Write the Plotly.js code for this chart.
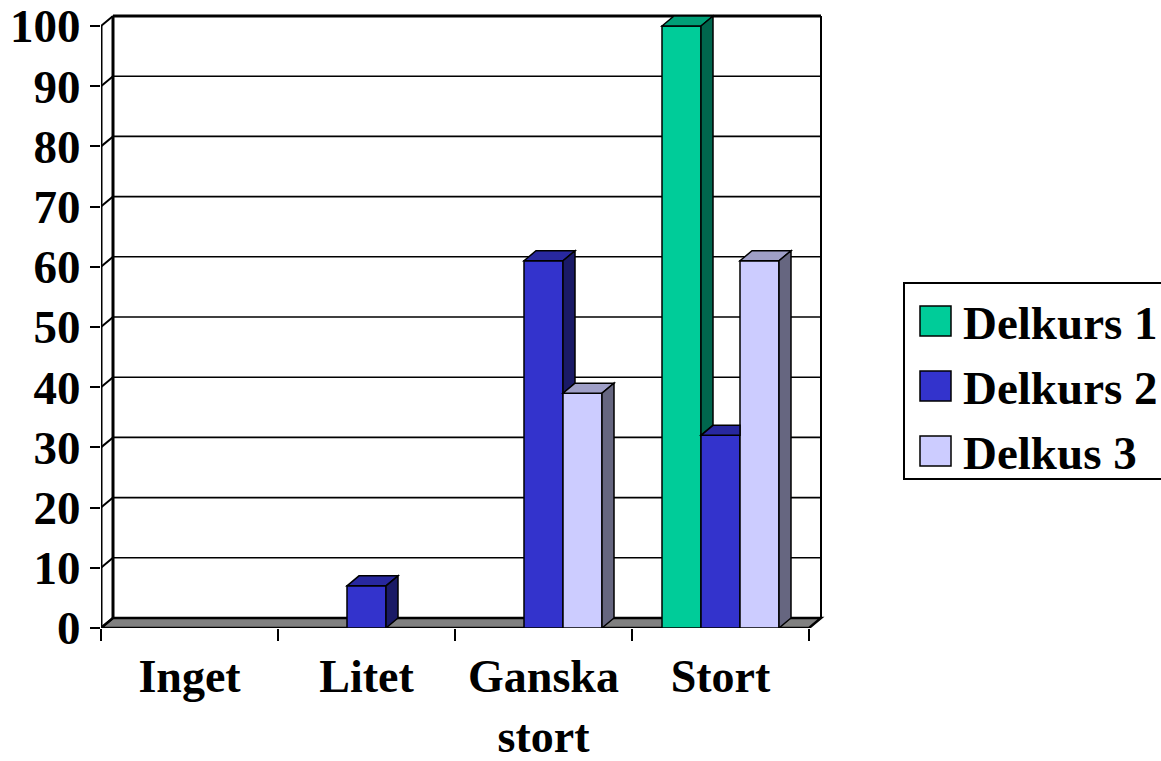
<!DOCTYPE html>
<html><head><meta charset="utf-8">
<script src="https://cdn.plot.ly/plotly-3.0.1.min.js"></script>
<style>html,body{margin:0;padding:0;background:#fff;overflow:hidden}</style>
</head><body><div id="chart" style="width:1161px;height:761px"></div>
<script>
// ---- data ----
const categories = ['Inget', 'Litet', 'Ganska<br>stort', 'Stort'];
const seriesNames = ['Delkurs 1', 'Delkurs 2', 'Delkus 3'];
const delkurs1 = [0, 0, 0, 100];
const delkurs2 = [0, 7, 61, 32];
const delkus3 = [0, 0, 39, 61];
const yTickValues = [0, 10, 20, 30, 40, 50, 60, 70, 80, 90, 100];
const seriesColors = ['#00CC99', '#3333CC', '#CCCCFF'];

const series = [delkurs1, delkurs2, delkus3];

// ---- layout geometry (styling) ----
const W = 1161, H = 761;
const plotL = 101, plotBpx = 628;
const SX = 177, SY = 6.02;           // px per category / per value unit
const DXP = 12, DYP = 10;            // 3D depth offset in px
const dx = DXP / SX, dy = DYP / SY;
const xRange = [-0.5, 3.5 + (DXP + 4) / SX];
const yRange = [0, 100 + (DYP + 6) / SY];
const plotW = (xRange[1] - xRange[0]) * SX;
const plotH = (yRange[1] - yRange[0]) * SY;
const margin = {l: plotL, r: W - plotL - plotW, t: plotBpx - plotH, b: H - plotBpx, pad: 0};
const bargap = 0.339;
const groupW = 1 - bargap;
const bw = groupW / series.length;
const FONT = 'Liberation Serif, Times New Roman, serif';

function shade(hex, f) {
  const n = parseInt(hex.slice(1), 16);
  const r = Math.round(((n >> 16) & 255) * f), g = Math.round(((n >> 8) & 255) * f), b = Math.round((n & 255) * f);
  return 'rgb(' + r + ',' + g + ',' + b + ')';
}
function P(pts) { return 'M' + pts.map(p => p[0] + ',' + p[1]).join('L') + 'Z'; }

// ---- traces (front faces) ----
const traces = series.map((vals, j) => ({
  type: 'bar', name: seriesNames[j], x: categories, y: vals,
  marker: {color: seriesColors[j], line: {color: '#000', width: 1.5}},
  showlegend: false, hoverinfo: 'x+y+name'
}));

// ---- shapes ----
const shapes = [];
const xL = xRange[0], xR = 3.5;
// floor
shapes.push({type: 'path', xref: 'x', yref: 'y', layer: 'below',
  path: P([[xL, 0], [xL + dx, dy], [xR + dx, dy], [xR, 0]]),
  fillcolor: '#808080', line: {color: '#000', width: 2.5}});
// back wall grid lines & connectors
yTickValues.forEach(v => {
  if (v > 0) {
    shapes.push({type: 'line', xref: 'x', yref: 'y', layer: 'below',
      x0: xL + dx, x1: xR + dx, y0: v + dy, y1: v + dy,
      line: {color: '#000', width: v === 100 ? 3 : 1.6}});
  }
  shapes.push({type: 'line', xref: 'x', yref: 'y', layer: 'below',
    x0: xL, x1: xL + dx, y0: v, y1: v + dy, line: {color: '#000', width: 2}});
});
// back wall left and right edges
shapes.push({type: 'line', xref: 'x', yref: 'y', layer: 'below',
  x0: xL + dx, x1: xL + dx, y0: dy, y1: 100 + dy, line: {color: '#000', width: 3}});
shapes.push({type: 'line', xref: 'x', yref: 'y', layer: 'below',
  x0: xR + dx, x1: xR + dx, y0: dy, y1: 100 + dy, line: {color: '#000', width: 2}});
// front value axis line
shapes.push({type: 'line', xref: 'x', yref: 'y', layer: 'above',
  x0: xL, x1: xL, y0: 0, y1: 100, line: {color: '#000', width: 3}});

// 3D top & side faces of the bars
categories.forEach((c, i) => {
  series.forEach((vals, j) => {
    const v = vals[i];
    if (!(v > 0)) return;
    const xl = i - groupW / 2 + j * bw, xr = xl + bw;
    const vn = j < series.length - 1 ? series[j + 1][i] : 0;
    const topPts = vn > v
      ? [[xl, v], [xl + dx, v + dy], [xr, v + dy], [xr, v]]
      : [[xl, v], [xl + dx, v + dy], [xr + dx, v + dy], [xr, v]];
    shapes.push({type: 'path', xref: 'x', yref: 'y', layer: 'above', path: P(topPts),
      fillcolor: shade(seriesColors[j], 0.78), line: {color: '#000', width: 1.5}});
    if (vn < v) {
      const lo = vn > 0 ? vn : 0;
      shapes.push({type: 'path', xref: 'x', yref: 'y', layer: 'above',
        path: P([[xr, lo], [xr, v], [xr + dx, v + dy], [xr + dx, lo + dy]]),
        fillcolor: shade(seriesColors[j], 0.5), line: {color: '#000', width: 1.5}});
    }
  });
});

// ---- manual legend (paper coords computed from pixels) ----
const px2x = px => (px - margin.l) / plotW;
const px2y = py => (plotBpx - py) / plotH;
const annotations = [];
shapes.push({type: 'rect', xref: 'paper', yref: 'paper', layer: 'above',
  x0: px2x(904), x1: px2x(1175), y0: px2y(479), y1: px2y(283),
  fillcolor: '#fff', line: {color: '#000', width: 2}});
const rowY = [321, 386, 451];
seriesNames.forEach((nm, j) => {
  shapes.push({type: 'rect', xref: 'paper', yref: 'paper', layer: 'above',
    x0: px2x(920), x1: px2x(951), y0: px2y(rowY[j] + 15), y1: px2y(rowY[j] - 15),
    fillcolor: seriesColors[j], line: {color: '#000', width: 1.5}});
  annotations.push({xref: 'paper', yref: 'paper', x: px2x(961), y: px2y(rowY[j] + 2),
    xanchor: 'left', yanchor: 'middle', showarrow: false, text: nm,
    font: {family: FONT, size: 47, color: '#000', weight: 'bold'}});
});

const layout = {
  width: W, height: H, margin: margin,
  paper_bgcolor: '#fff', plot_bgcolor: '#fff',
  barmode: 'group', bargap: bargap, bargroupgap: 0,
  showlegend: false,
  xaxis: {type: 'category', range: xRange, tickson: 'boundaries', ticks: 'outside',
    ticklen: 12, tickwidth: 2, tickcolor: '#000', showgrid: false, zeroline: false,
    showline: false, fixedrange: true, ticklabelstandoff: 17,
    tickfont: {family: FONT, size: 46, color: '#000', weight: 'bold'}},
  yaxis: {range: yRange, tickvals: yTickValues, ticks: 'outside', ticklen: 10,
    tickwidth: 2, tickcolor: '#000', showgrid: false, zeroline: false, showline: false,
    fixedrange: true, ticklabeloverflow: 'allow',
    tickfont: {family: FONT, size: 47, color: '#000', weight: 'bold'}},
  shapes: shapes, annotations: annotations
};

Plotly.newPlot('chart', traces, layout, {displayModeBar: false, staticPlot: true});
</script></body></html>
